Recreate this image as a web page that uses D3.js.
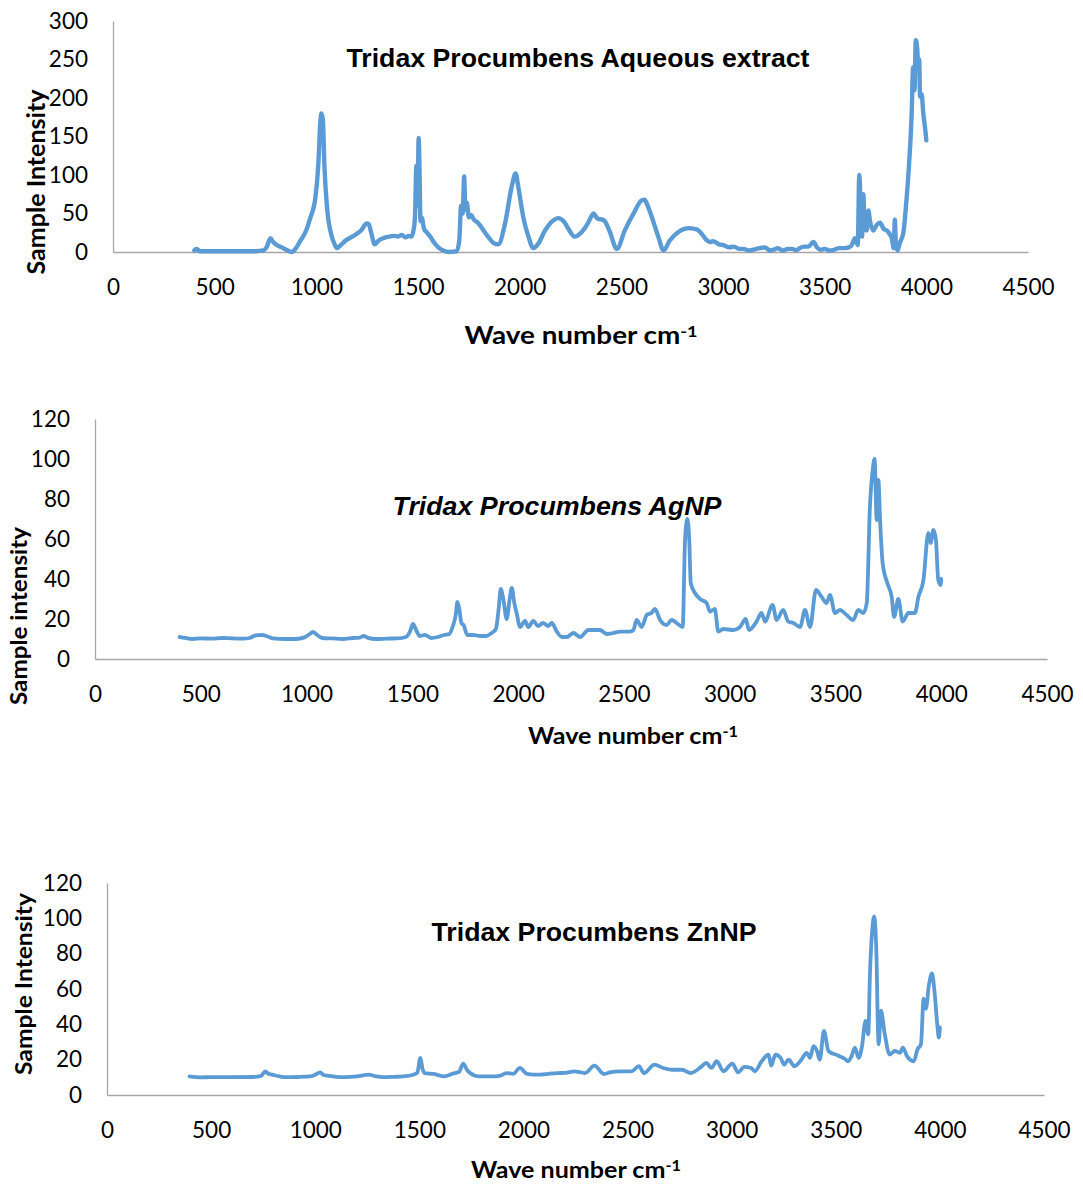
<!DOCTYPE html>
<html>
<head>
<meta charset="utf-8">
<script src="https://cdn.jsdelivr.net/npm/d3@7"></script>
<style>
  html, body { margin: 0; padding: 0; background: #fff; }
  svg { display: block; }
</style>
</head>
<body>
<script>
// ---------------- DATA ----------------
const xTickValues = [0, 500, 1000, 1500, 2000, 2500, 3000, 3500, 4000, 4500];
const yTicksAqueous = [0, 50, 100, 150, 200, 250, 300];
const yTicksNP = [0, 20, 40, 60, 80, 100, 120];

const titles = ["Tridax Procumbens Aqueous extract", "Tridax Procumbens AgNP", "Tridax Procumbens ZnNP"];
const yLabels = ["Sample Intensity", "Sample intensity", "Sample Intensity"];
const xLabelMain = "Wave number cm";
const xLabelSup = "-1";

const aqWave = [400,410,418,425,500,600,700,740,755,775,785,800,830,860,878,900,920,950,970,995,1010,1020,1025,1032,1040,1053,1074,1090,1101,1120,1140,1190,1220,1248,1258,1270,1287,1307,1330,1358,1380,1400,1420,1440,1455,1468,1478,1485,1492,1498,1503,1508,1512,1518,1530,1545,1560,1580,1600,1624,1650,1690,1703,1712,1720,1727,1733,1740,1750,1760,1775,1790,1810,1830,1850,1870,1895,1928,1961,1980,1993,2018,2043,2067,2092,2125,2165,2190,2219,2240,2270,2305,2339,2350,2364,2380,2415,2441,2478,2517,2560,2600,2615,2625,2644,2679,2708,2738,2781,2810,2832,2860,2875,2900,2917,2935,2951,2980,3002,3030,3054,3080,3100,3130,3150,3180,3207,3230,3250,3270,3292,3320,3340,3360,3377,3400,3420,3445,3462,3480,3500,3525,3547,3570,3590,3620,3635,3649,3663,3670,3677,3684,3690,3697,3707,3715,3723,3739,3755,3772,3790,3805,3818,3830,3840,3845,3850,3858,3870,3887,3900,3911,3928,3935,3942,3948,3955,3960,3965,3969,3977,3985,3993,4000];
const aqIntensity = [2,4,3,1,1,1,1,2,6,18,14,10,6,2,0,5,14,28,44,70,115,170,180,172,110,57,22,10,5,9,14,22,28,37,36,25,10,15,18,20,21,20,22,19,21,20,28,45,112,60,148,100,40,45,30,25,20,12,6,2,0,1,15,60,50,98,55,64,45,48,42,39,33,25,18,12,10,37,85,102,85,45,20,5,11,28,41,44,39,30,20,26,39,45,50,44,41,28,4,28,50,67,68,63,50,22,2,15,26,30,31,30,29,22,16,13,14,10,9,6,7,4,4,2,3,5,6,2,3,5,2,4,4,2,5,7,7,13,6,3,4,2,3,5,5,6,10,18,9,100,60,20,75,30,28,54,40,28,35,38,30,28,24,18,5,42,12,2,12,25,60,98,180,240,210,275,265,240,250,202,205,180,163,145];

const agWave = [400,430,460,500,550,600,650,700,730,760,790,810,840,900,950,990,1015,1030,1050,1075,1120,1170,1220,1250,1270,1290,1330,1380,1430,1470,1490,1503,1520,1535,1560,1590,1620,1650,1675,1690,1705,1713,1722,1732,1742,1760,1790,1820,1850,1875,1895,1908,1918,1930,1946,1960,1970,1982,1993,2009,2033,2048,2072,2094,2118,2142,2159,2183,2207,2230,2261,2293,2332,2387,2419,2450,2482,2529,2545,2560,2584,2608,2630,2647,2671,2702,2726,2749,2778,2789,2800,2809,2816,2836,2860,2891,2907,2930,2946,2970,3017,3049,3076,3091,3127,3151,3167,3203,3222,3253,3277,3301,3333,3356,3380,3408,3435,3458,3474,3498,3521,3553,3584,3608,3632,3648,3663,3676,3685,3695,3703,3711,3723,3745,3766,3777,3797,3818,3845,3876,3892,3916,3939,3950,3963,3975,3986,3997,4000];
const agIntensity = [11,10.5,10,10.3,10.2,10.5,10.3,10.2,10.5,11.8,12,11.5,10.3,10,10,10.8,12.5,13.5,12,10.5,10.3,10,10.5,10.7,11.5,10.6,10,10.2,10.3,11,14,17.5,14,11.5,12,10.5,11,12,12.5,16,22,28.5,25,18,17,12,12,11.5,11.5,13,15,25,35,30,20,30,35.5,28,23,16,19,16,19,16.5,18,16.5,18,13.7,11,11,13,11,14.5,14.5,12.5,13,13.7,13.7,14.5,19.5,16,22,23,25,19.5,17,19.5,18,16,59.5,70,59.5,38,33,30,28,23.7,25,13.7,15,14.5,16,20,14.5,18.7,23,18.7,27,19.5,24.5,18.7,18,16,24.5,16,34.5,31,28,32,23,24.5,22,19.5,24.5,23,28,76,94.5,100,69.5,89.5,69.5,48,38,31,21,30,18.7,23,23,31,39.5,63,58,64.5,59.5,39.5,37,40];

const znWave = [396,450,500,600,700,740,760,775,793,830,859,920,975,1000,1024,1040,1058,1100,1140,1200,1256,1290,1322,1380,1421,1471,1490,1505,1515,1525,1570,1620,1669,1690,1711,1730,1744,1785,1850,1890,1917,1951,1983,2017,2050,2080,2120,2163,2200,2246,2270,2296,2341,2387,2420,2462,2520,2554,2579,2629,2670,2712,2761,2803,2853,2878,2903,2928,2961,3003,3031,3061,3094,3111,3144,3177,3190,3210,3235,3252,3273,3302,3335,3360,3376,3393,3410,3423,3443,3465,3510,3543,3559,3576,3592,3610,3626,3643,3656,3664,3676,3684,3696,3700,3706,3717,3734,3759,3784,3808,3822,3842,3875,3892,3909,3922,3933,3947,3962,3975,3988,3995,4000];
const znIntensity = [10.5,10,10.1,10.1,10.2,10.8,13.4,12,11.5,10.5,10.1,10.2,10.5,11.5,12.8,11.3,10.9,10.3,10.1,10.5,11.5,10.6,10.1,10.3,10.5,11.5,12.5,21,15,12.4,11.9,10.5,12.4,13,17.8,14,12.4,10.5,10.5,11,12.4,12,15.3,11.9,11.5,11.5,12,12.4,12.5,13.4,13,12.4,16.6,11.9,13,13.4,13.4,16.3,12.4,17.2,15.3,14.3,14.3,12.4,15.9,18.2,15.3,19.1,13.4,17.8,12.8,15.9,15.3,13.4,19.1,22.9,16.6,22.9,21,17.2,20,16.3,20,23.9,21,27.7,24.9,20,36.3,24.9,22.4,20.5,19.1,22,26.8,21,27.7,42,34.4,67.9,94.6,101,77,50,28.7,47.8,35.4,22.9,24.9,23.9,26.8,22,19.1,25.8,28.7,54.5,48.8,62,68.8,57.4,39.2,32.5,38.2];

// ---------------- LAYOUT ----------------
const W = 1083, H = 1184;
const lineColor = "#5B9BD5";
const axisColor = "#A6A6A6";
const tickFont = "Lato, 'Open Sans', sans-serif";
const titleFont = "'Liberation Sans', Arial, sans-serif";

const svg = d3.select("body").append("svg").attr("width", W).attr("height", H);

const panels = [
  { wave: aqWave, inten: aqIntensity, yMax: 300, yTicks: yTicksAqueous,
    left: 113, right: 1028, top: 21, bottom: 252,
    title: titles[0], italic: false, titleX: 578, titleY: 58, titleLen: 463,
    yLabel: yLabels[0], yLabelX: 37, yLabelY: 182, yLabelLen: 185, yLabelSize: 24,
    xLabelX: 581, xLabelY: 336, xLabelLen: 233, xLabelSize: 24, strokeW: 4.4 },
  { wave: agWave, inten: agIntensity, yMax: 120, yTicks: yTicksNP,
    left: 95, right: 1047, top: 419, bottom: 659,
    title: titles[1], italic: true, titleX: 557, titleY: 506, titleLen: 329,
    yLabel: yLabels[1], yLabelX: 19, yLabelY: 616, yLabelLen: 178, yLabelSize: 22,
    xLabelX: 633, xLabelY: 736, xLabelLen: 210, xLabelSize: 22, strokeW: 3.8 },
  { wave: znWave, inten: znIntensity, yMax: 120, yTicks: yTicksNP,
    left: 107, right: 1044, top: 883, bottom: 1095,
    title: titles[2], italic: false, titleX: 594, titleY: 932, titleLen: 325,
    yLabel: yLabels[2], yLabelX: 24, yLabelY: 984, yLabelLen: 182, yLabelSize: 22,
    xLabelX: 576, xLabelY: 1170, xLabelLen: 210, xLabelSize: 22, strokeW: 3.8 }
];

panels.forEach(p => {
  const x = d3.scaleLinear().domain([0, 4500]).range([p.left, p.right]);
  const y = d3.scaleLinear().domain([0, p.yMax]).range([p.bottom, p.top]);
  const g = svg.append("g");

  const ya = g.append("g").attr("transform", `translate(${p.left},0)`)
    .call(d3.axisLeft(y).tickValues(p.yTicks).tickSize(0).tickPadding(25));
  const xa = g.append("g").attr("transform", `translate(0,${p.bottom})`)
    .call(d3.axisBottom(x).tickValues(xTickValues).tickSize(0).tickPadding(27).tickFormat(d3.format("d")));
  [ya, xa].forEach(a => {
    a.select(".domain").attr("stroke", axisColor).attr("stroke-width", 1.3);
    a.selectAll("text").attr("font-family", tickFont).attr("font-size", 22.5).attr("fill", "#000");
  });

  const pts = p.wave.map((w, i) => [w, p.inten[i]]);
  g.append("path").datum(pts)
    .attr("fill", "none").attr("stroke", lineColor).attr("stroke-width", p.strokeW)
    .attr("stroke-linejoin", "round").attr("stroke-linecap", "round")
    .attr("d", d3.line().curve(d3.curveMonotoneX).x(d => x(d[0])).y(d => y(d[1])));

  g.append("text").attr("x", p.titleX).attr("y", p.titleY).attr("dy", "0.35em")
    .attr("text-anchor", "middle").attr("font-family", titleFont).attr("font-weight", "bold")
    .attr("font-style", p.italic ? "italic" : "normal").attr("font-size", 25.5)
    .attr("textLength", p.titleLen).attr("lengthAdjust", "spacingAndGlyphs")
    .attr("fill", "#000").text(p.title);

  g.append("text").attr("transform", `translate(${p.yLabelX},${p.yLabelY}) rotate(-90)`)
    .attr("dy", "0.35em").attr("text-anchor", "middle").attr("font-family", tickFont)
    .attr("font-weight", "bold").attr("font-size", p.yLabelSize)
    .attr("textLength", p.yLabelLen).attr("lengthAdjust", "spacingAndGlyphs")
    .attr("fill", "#000").text(p.yLabel);

  const xl = g.append("text").attr("x", p.xLabelX).attr("y", p.xLabelY).attr("dy", "0.35em")
    .attr("text-anchor", "middle").attr("font-family", tickFont).attr("font-weight", "bold")
    .attr("font-size", p.xLabelSize).attr("textLength", p.xLabelLen).attr("lengthAdjust", "spacingAndGlyphs")
    .attr("fill", "#000");
  xl.append("tspan").text(xLabelMain);
  xl.append("tspan").attr("dy", "-0.45em").attr("font-size", p.xLabelSize * 0.65).text(xLabelSup);
});
</script>
</body>
</html>
